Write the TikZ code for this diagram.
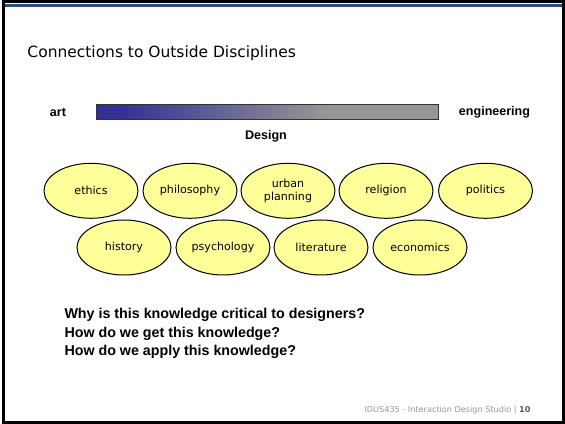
\documentclass[tikz,border=0pt]{standalone}
\usepackage{fontspec}
\setmainfont{DejaVu Sans}
\newfontfamily\arialfont{Liberation Sans}
\usetikzlibrary{shapes.geometric}

\definecolor{slideblue}{RGB}{40,80,130}
\definecolor{barblue}{RGB}{50,50,150}
\definecolor{bargray}{RGB}{150,150,150}
\definecolor{discyellow}{RGB}{255,255,153}
\definecolor{footgray}{RGB}{150,150,150}
\pgfdeclarehorizontalshading{designbar}{100bp}{color(0bp)=(barblue); color(28.5bp)=(barblue); color(58.5bp)=(bargray); color(100bp)=(bargray)}

\tikzset{every picture/.style={line width=0.75pt}}
\tikzset{
  disc/.style={ellipse, draw=black, fill=discyellow, minimum width=70.5pt, minimum height=41.25pt, inner sep=0pt, align=center, font=\fontsize{8.3}{9.75}\selectfont},
  pole/.style={inner sep=0.75pt, font=\arialfont\bfseries\fontsize{9.4}{11}\selectfont},
}

\begin{document}
\begin{tikzpicture}[x=0.75pt,y=0.75pt,yscale=-1,xscale=1]
\useasboundingbox (0,0) rectangle (565,424);

%Slide frame
\draw [line width=2.25pt] (3,2) rectangle (563.5,422.5) ;
\fill [slideblue] (4.5,4.3) rectangle (562,7.3) ;

% Text Node
\node [anchor=west, inner sep=0pt, font=\fontsize{11.6}{14}\selectfont] (title) at (27,53.5) {Connections to Outside Disciplines};

%Shape: Rectangle [id:bar]
\node [shade, shading=designbar, draw=black!80, minimum width=256.5pt, minimum height=10.9pt, inner sep=0pt] (bar) at (267,111.8) {};
% Text Node
\node [pole] (art) at (58,112.5) {art};
% Text Node
\node [pole] (engineering) at (494.5,112.5) {engineering};
% Text Node
\node [pole] (design) at (266,136) {Design};

%Shape: Ellipse [id:row1]
\node [disc] (ethics) at (91,190.8) {ethics};
\node [disc] (philosophy) at (190,190.8) {philosophy};
\node [disc] (urban) at (288,190.8) {urban\\planning};
\node [disc] (religion) at (386,190.8) {religion};
\node [disc] (politics) at (485.5,190.8) {politics};
%Shape: Ellipse [id:row2]
\node [disc] (history) at (124,247.5) {history};
\node [disc] (psychology) at (223,247.5) {psychology};
\node [disc] (literature) at (321,247.5) {literature};
\node [disc] (economics) at (420,247.5) {economics};

% Text Node
\node [anchor=west, align=left, inner sep=0pt, font=\arialfont\bfseries\fontsize{10.7}{13.9}\selectfont] (questions) at (64,333.5) {Why is this knowledge critical to designers?\\How do we get this knowledge?\\How do we apply this knowledge?};
% Text Node
\node [anchor=east, inner sep=0pt, text=footgray, font=\fontsize{6.1}{7}\selectfont] (footer) at (531,410) {IDUS435 - Interaction Design Studio | \textbf{\textcolor{black!65}{10}}};

\end{tikzpicture}
\end{document}
